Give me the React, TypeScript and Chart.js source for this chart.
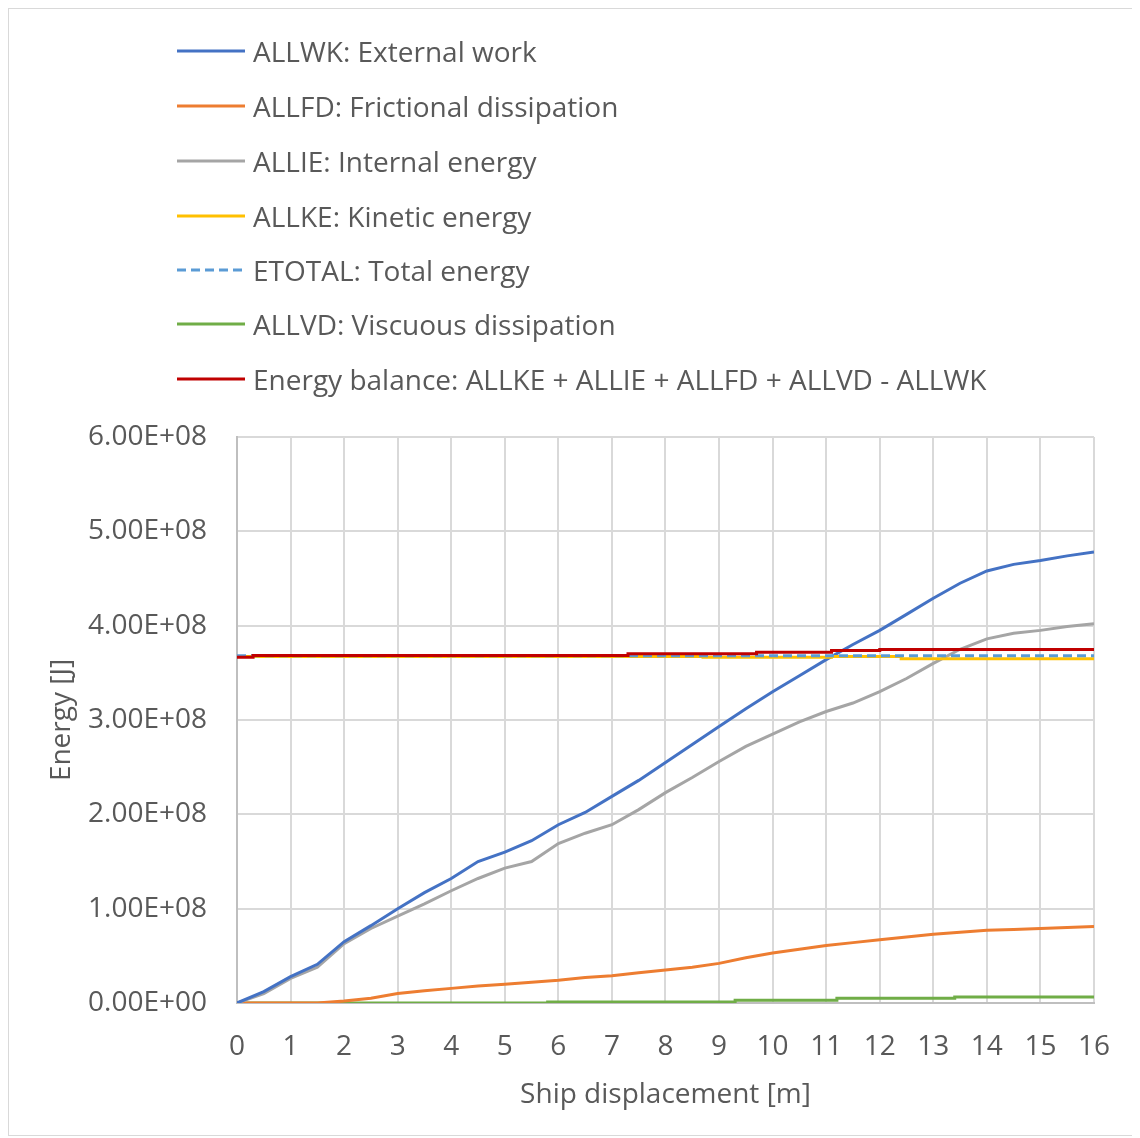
import React, { useEffect, useRef } from "react";
import { Chart, registerables } from "chart.js";

Chart.register(...registerables);

// Values in units of 1E+08 J
const xGrid = [0, 0.5, 1, 1.5, 2, 2.5, 3, 3.5, 4, 4.5, 5, 5.5, 6, 6.5, 7, 7.5, 8, 8.5, 9, 9.5, 10, 10.5, 11, 11.5, 12, 12.5, 13, 13.5, 14, 14.5, 15, 15.5, 16];
const allwk = [0, 0.12, 0.28, 0.41, 0.65, 0.82, 1.0, 1.17, 1.32, 1.5, 1.6, 1.72, 1.89, 2.02, 2.19, 2.36, 2.55, 2.74, 2.93, 3.12, 3.3, 3.47, 3.64, 3.8, 3.95, 4.12, 4.29, 4.45, 4.58, 4.65, 4.69, 4.74, 4.78];
const allie = [0, 0.1, 0.26, 0.38, 0.63, 0.79, 0.92, 1.05, 1.19, 1.32, 1.43, 1.5, 1.69, 1.8, 1.89, 2.05, 2.23, 2.39, 2.56, 2.72, 2.85, 2.98, 3.09, 3.18, 3.3, 3.44, 3.6, 3.75, 3.86, 3.92, 3.95, 3.99, 4.02];

const allfdX = [0, 1.5, 2, 2.5, 3, 3.5, 4, 4.5, 5, 5.5, 6, 6.5, 7, 7.5, 8, 8.5, 9, 9.5, 10, 10.5, 11, 11.5, 12, 12.5, 13, 13.5, 14, 14.5, 15, 15.5, 16];
const allfd = [0, 0, 0.02, 0.05, 0.1, 0.13, 0.155, 0.18, 0.2, 0.22, 0.24, 0.27, 0.29, 0.32, 0.35, 0.38, 0.42, 0.48, 0.53, 0.57, 0.61, 0.64, 0.67, 0.7, 0.73, 0.75, 0.77, 0.78, 0.79, 0.8, 0.81];

const allvdX = [0, 5.8, 5.8, 9.3, 9.3, 11.2, 11.2, 13.4, 13.4, 16];
const allvd = [0, 0, 0.01, 0.01, 0.03, 0.03, 0.05, 0.05, 0.063, 0.063];

const allkeX = [0, 8.7, 8.7, 11.1, 11.1, 12.4, 12.4, 16];
const allke = [3.673, 3.673, 3.666, 3.666, 3.673, 3.673, 3.649, 3.649];

const etotalX = [0, 16];
const etotal = [3.68, 3.68];

const balanceX = [0, 0.3, 0.3, 7.3, 7.3, 9.7, 9.7, 11.1, 11.1, 12.0, 12.0, 16];
const balance = [3.665, 3.665, 3.684, 3.684, 3.702, 3.702, 3.719, 3.719, 3.737, 3.737, 3.747, 3.747];

const seriesLabels = [
  "ALLWK: External work",
  "ALLFD: Frictional dissipation",
  "ALLIE: Internal energy",
  "ALLKE: Kinetic energy",
  "ETOTAL: Total energy",
  "ALLVD: Viscuous dissipation",
  "Energy balance: ALLKE + ALLIE + ALLFD + ALLVD - ALLWK",
];
const seriesColors = ["#4472C4", "#ED7D31", "#A5A5A5", "#FFC000", "#5B9BD5", "#70AD47", "#C00000"];
const seriesDashed = [false, false, false, false, true, false, false];

const yTickValues = [0, 1e8, 2e8, 3e8, 4e8, 5e8, 6e8];
const yTickLabels = ["0.00E+00", "1.00E+08", "2.00E+08", "3.00E+08", "4.00E+08", "5.00E+08", "6.00E+08"];
const xTitle = "Ship displacement [m]";
const yTitle = "Energy [J]";

const UNIT = 1e8;
const FONT = "'Open Sans', sans-serif";
const TEXT = "#595959";
const FS = 28;

function pts(xs: number[], ys: number[]) {
  return xs.map((x, i) => ({ x, y: ys[i] * UNIT }));
}

export default function App() {
  const ref = useRef<HTMLCanvasElement | null>(null);

  useEffect(() => {
    if (!ref.current) return;
    const data = [
      pts(xGrid, allwk),
      pts(allfdX, allfd),
      pts(xGrid, allie),
      pts(allkeX, allke),
      pts(etotalX, etotal),
      pts(allvdX, allvd),
      pts(balanceX, balance),
    ];
    const orders = [4, 6, 5, 3, 2, 7, 1];
    const chart = new Chart(ref.current, {
      type: "line",
      data: {
        datasets: data.map((d, i) => ({
          label: seriesLabels[i],
          data: d,
          borderColor: seriesColors[i],
          backgroundColor: seriesColors[i],
          borderWidth: 3,
          borderDash: seriesDashed[i] ? [9, 5] : [],
          pointRadius: 0,
          tension: 0,
          fill: false,
          order: orders[i],
        })),
      },
      options: {
        animation: false,
        responsive: false,
        layout: { padding: { top: 428, right: 40, left: 0, bottom: 0 } },
        plugins: { legend: { display: false }, tooltip: { enabled: false } },
        scales: {
          x: {
            type: "linear",
            min: 0,
            max: 16,
            ticks: { stepSize: 1, padding: 27, color: TEXT, font: { family: FONT, size: FS } },
            grid: { color: "#d9d9d9", lineWidth: 2, drawTicks: false },
            border: { color: "#bfbfbf", width: 2 },
            title: { display: true, text: xTitle, color: TEXT, font: { family: FONT, size: FS }, padding: { top: 0, bottom: 23 } },
            afterFit: (s: any) => { s.height = 132; },
          },
          y: {
            type: "linear",
            min: 0,
            max: 6e8,
            afterBuildTicks: (s: any) => { s.ticks = yTickValues.map((v) => ({ value: v })); },
            ticks: {
              padding: 30,
              color: TEXT,
              font: { family: FONT, size: FS },
              callback: (v: any) => yTickLabels[yTickValues.indexOf(Number(v))] ?? "",
            },
            grid: { color: "#d9d9d9", lineWidth: 2, drawTicks: false },
            border: { color: "#bfbfbf", width: 2 },
            title: { display: true, text: yTitle, color: TEXT, font: { family: FONT, size: FS }, padding: { top: 36, bottom: 0 } },
            afterFit: (s: any) => { s.width = 228; },
          },
        },
      },
    } as any);
    return () => chart.destroy();
  }, []);

  const rowCenters = [42, 97, 152, 207, 261, 315, 370];

  return (
    <div style={{ position: "relative", width: 1130, height: 1128, boxSizing: "border-box", border: "1px solid #d9d9d9", background: "#fff" }}>
      <canvas ref={ref} width={1128} height={1126} style={{ position: "absolute", left: 0, top: 0, width: 1128, height: 1126 }} />
      {seriesLabels.map((lab, i) => (
        <div key={lab} style={{ position: "absolute", left: 168, top: rowCenters[i] - 20, height: 40, display: "flex", alignItems: "center", whiteSpace: "nowrap" }}>
          <svg width={68} height={6} style={{ display: "block" }}>
            <line x1={0} y1={3} x2={68} y2={3} stroke={seriesColors[i]} strokeWidth={3} strokeDasharray={seriesDashed[i] ? "9 5" : undefined} />
          </svg>
          <span style={{ marginLeft: 8, fontFamily: FONT, fontSize: FS, color: TEXT, lineHeight: "40px" }}>{lab}</span>
        </div>
      ))}
    </div>
  );
}
